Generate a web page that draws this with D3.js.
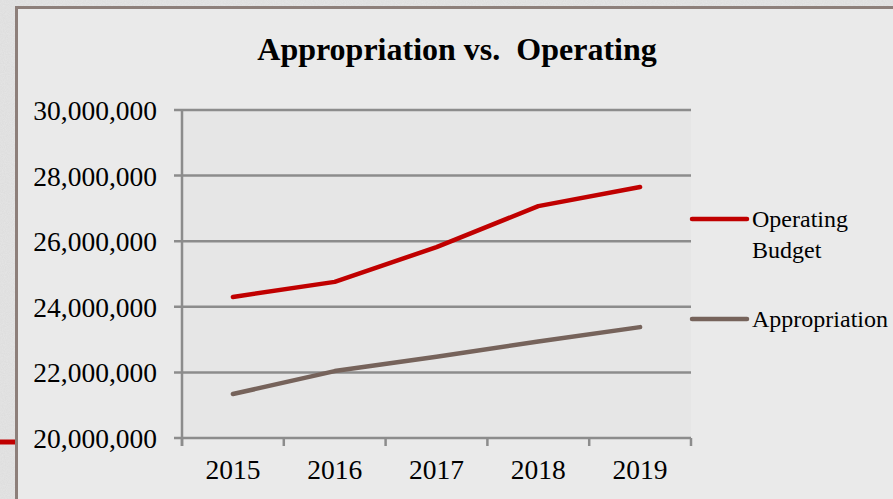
<!DOCTYPE html>
<html>
<head>
<meta charset="utf-8">
<script src="https://cdn.jsdelivr.net/npm/d3@7"></script>
<style>
  body { margin: 0; background: #d8d8d8; }
  svg { display: block; }
  text { font-family: "Liberation Serif", "Times New Roman", serif; fill: #000; }
</style>
</head>
<body>
<div id="chart"></div>
<script>
let years = ["2015", "2016", "2017", "2018", "2019"];
let operatingBudget = [24300000, 24760000, 25820000, 27070000, 27650000];
let appropriation = [21340000, 22040000, 22480000, 22940000, 23380000];
let yTicks = [20000000, 22000000, 24000000, 26000000, 28000000, 30000000];
let seriesNames = ["Operating Budget", "Appropriation"];

let width = 893, height = 499;
let colors = ["#c00000", "#76635b"];

let svg = d3.select("#chart").append("svg")
    .attr("width", width)
    .attr("height", height);

// textured backdrop
let defs = svg.append("defs");
let filter = defs.append("filter").attr("id", "grain");
filter.append("feTurbulence")
    .attr("type", "fractalNoise")
    .attr("baseFrequency", 0.9)
    .attr("numOctaves", 2)
    .attr("seed", 3);
filter.append("feColorMatrix")
    .attr("type", "matrix")
    .attr("values", "0 0 0 0 0.78  0 0 0 0 0.78  0 0 0 0 0.78  0 0 0 -1.6 1.2");
svg.append("rect").attr("width", width).attr("height", height).attr("fill", "#dedede");
svg.append("rect").attr("width", width).attr("height", height).attr("filter", "url(#grain)");

// red stub from a neighbouring element
svg.append("line")
    .attr("x1", 0).attr("x2", 16).attr("y1", 442).attr("y2", 442)
    .attr("stroke", "#c00000").attr("stroke-width", 5);

// chart panel
svg.append("rect")
    .attr("x", 16.5).attr("y", 7.5)
    .attr("width", width + 20).attr("height", height + 20)
    .attr("fill", "#eaeaea")
    .attr("stroke", "#8d7f7a")
    .attr("stroke-width", 3);

let plot = { left: 182, right: 691, top: 110, bottom: 438 };

let x = d3.scaleBand()
    .domain(years)
    .range([plot.left, plot.right]);

let y = d3.scaleLinear()
    .domain([20000000, 30000000])
    .range([plot.bottom, plot.top]);

svg.append("rect")
    .attr("x", plot.left).attr("y", plot.top)
    .attr("width", plot.right - plot.left).attr("height", plot.bottom - plot.top)
    .attr("fill", "#e6e6e6");

// gridlines + y ticks
svg.selectAll(".grid")
    .data(yTicks)
    .enter().append("line")
    .attr("class", "grid")
    .attr("x1", plot.left - 8)
    .attr("x2", plot.right)
    .attr("y1", d => y(d))
    .attr("y2", d => y(d))
    .attr("stroke", "#8c8c8c")
    .attr("stroke-width", 2.5);

svg.selectAll(".ylabel")
    .data(yTicks)
    .enter().append("text")
    .attr("class", "ylabel")
    .attr("x", 157)
    .attr("y", d => y(d) + 10)
    .attr("text-anchor", "end")
    .style("font-size", "27.5px")
    .text(d => d3.format(",")(d));

// y axis line
svg.append("line")
    .attr("x1", plot.left).attr("x2", plot.left)
    .attr("y1", plot.top).attr("y2", plot.bottom + 8)
    .attr("stroke", "#8c8c8c").attr("stroke-width", 2.5);

// x ticks at band edges
let xEdges = years.map(d => x(d)).concat([plot.right]);
svg.selectAll(".xtick")
    .data(xEdges)
    .enter().append("line")
    .attr("class", "xtick")
    .attr("x1", d => d).attr("x2", d => d)
    .attr("y1", plot.bottom).attr("y2", plot.bottom + 8)
    .attr("stroke", "#8c8c8c").attr("stroke-width", 2.5);

svg.selectAll(".xlabel")
    .data(years)
    .enter().append("text")
    .attr("class", "xlabel")
    .attr("x", d => x(d) + x.bandwidth() / 2)
    .attr("y", 479)
    .attr("text-anchor", "middle")
    .style("font-size", "27.5px")
    .text(d => d);

// series lines
let line = d3.line()
    .x((d, i) => x(years[i]) + x.bandwidth() / 2)
    .y(d => y(d));

svg.selectAll(".series")
    .data([operatingBudget, appropriation])
    .enter().append("path")
    .attr("class", "series")
    .attr("d", line)
    .attr("fill", "none")
    .attr("stroke", (_, i) => colors[i])
    .attr("stroke-width", 4.5)
    .attr("stroke-linecap", "round")
    .attr("stroke-linejoin", "round");

// title
svg.append("text")
    .attr("x", 457)
    .attr("y", 60)
    .attr("text-anchor", "middle")
    .attr("xml:space", "preserve")
    .style("font-size", "32px")
    .style("font-weight", "bold")
    .style("white-space", "pre")
    .text("Appropriation vs.  Operating");

// legend
let legendY = [219, 319];
let legend = svg.selectAll(".legend")
    .data(seriesNames)
    .enter().append("g")
    .attr("class", "legend")
    .attr("transform", (d, i) => `translate(692,${legendY[i]})`);

legend.append("line")
    .attr("x1", 0).attr("x2", 55)
    .attr("stroke", (_, i) => colors[i])
    .attr("stroke-width", 4.5)
    .attr("stroke-linecap", "round");

legend.append("text")
    .attr("x", 60)
    .attr("y", 8)
    .style("font-size", "24px")
    .each(function(d) {
        let words = d.split(" ");
        d3.select(this).selectAll("tspan")
            .data(words.length > 1 && d.length > 13 ? words : [d])
            .enter().append("tspan")
            .attr("x", 60)
            .attr("dy", (w, j) => j === 0 ? 0 : 31)
            .text(w => w);
    });
</script>
</body>
</html>
